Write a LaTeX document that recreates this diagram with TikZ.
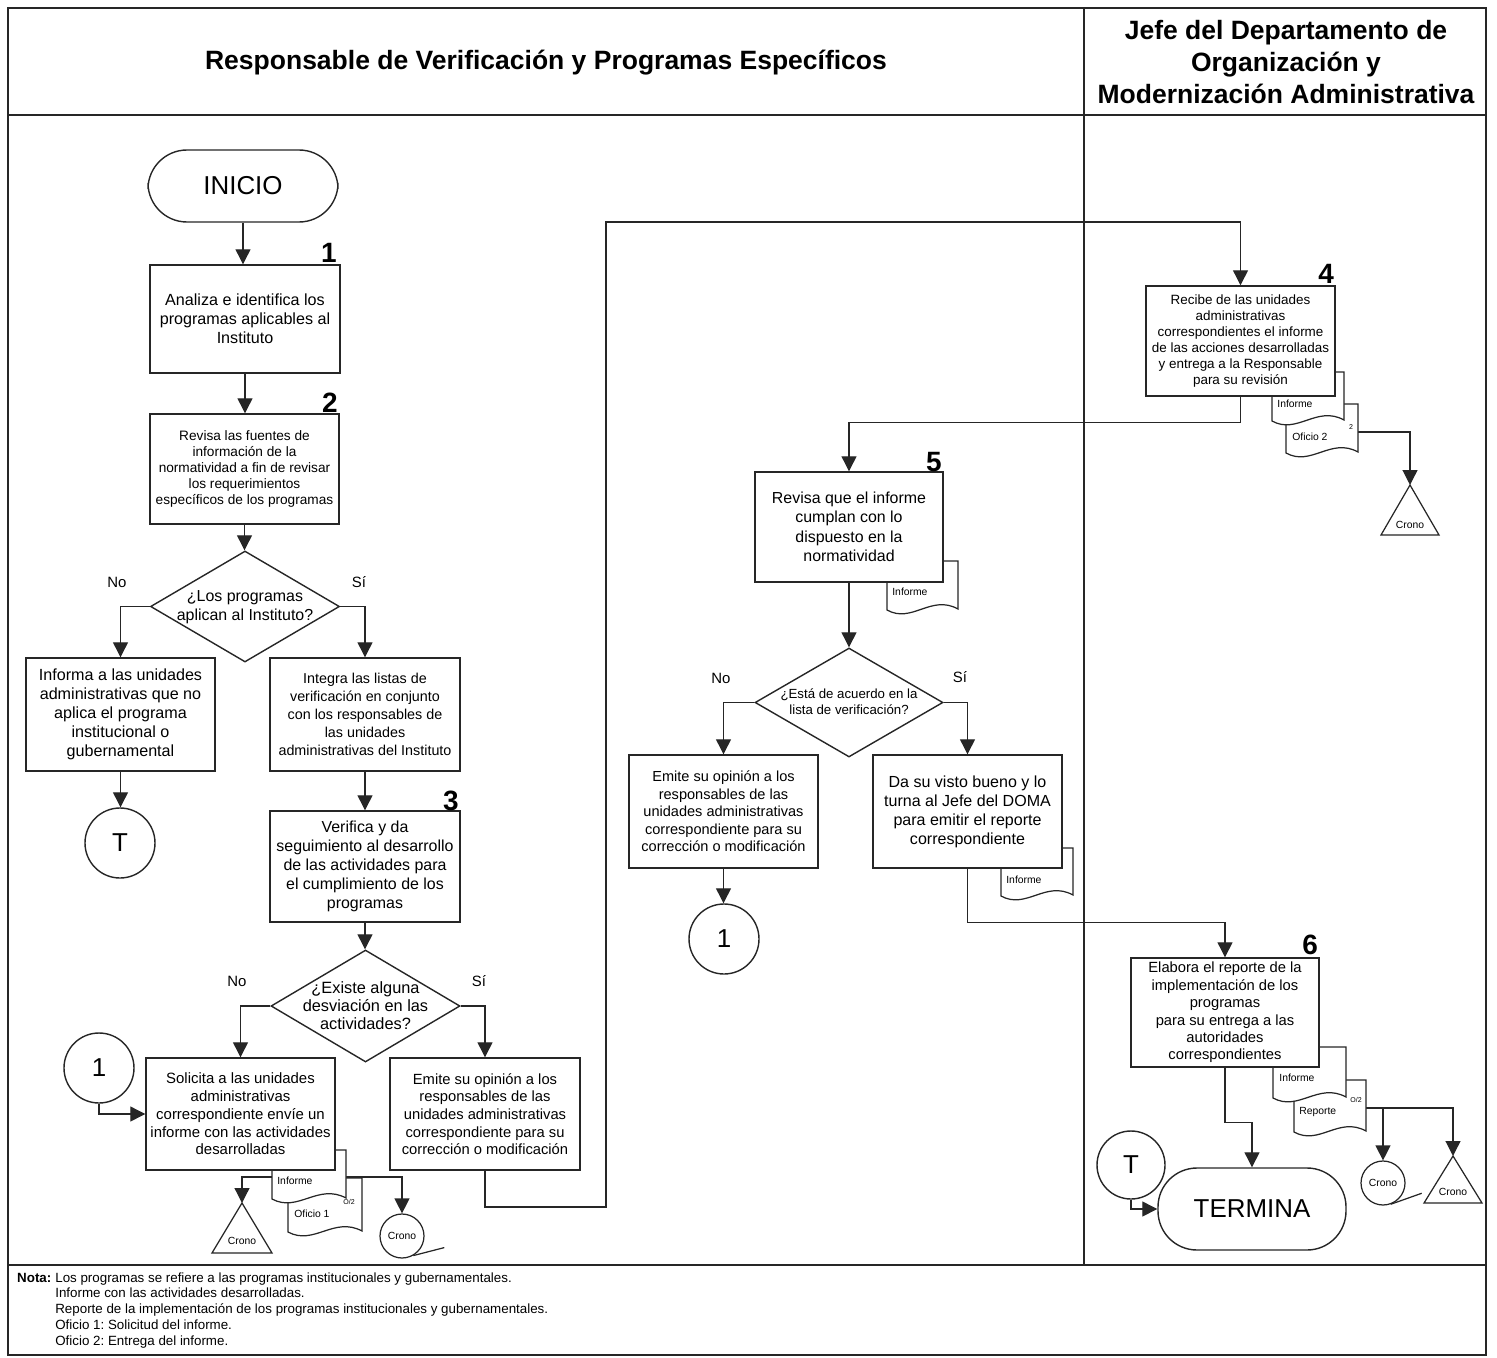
\documentclass[tikz,border=0pt]{standalone}
\usepackage{fontspec}
\setmainfont{Liberation Sans}
\usetikzlibrary{arrows.meta,shapes.geometric,calc}
\definecolor{ln}{HTML}{262626}
\frenchspacing
% document symbol: rectangle with a wavy bottom edge (x1, ytop, x2, ybottom)
\newcommand\docsh[4]{%
  \draw[docst] (#1,#2) -- (#3,#2) -- (#3,#4)
    .. controls ({#1+0.62*(#3-#1)},{#4-15}) and ({#1+0.35*(#3-#1)},{#4+15}) .. (#1,{#4+1}) -- cycle;}
\begin{document}
\begin{tikzpicture}[x=0.02cm,y=-0.02cm,
  fs/.style 2 args={font=\fontsize{#1pt}{#2pt}\selectfont},
  sz/.style 2 args={minimum width=#1*0.02cm,minimum height=#2*0.02cm},
  box/.style={rectangle,draw=ln,line width=0.8pt,fill=white,inner sep=0pt,align=center},
  termst/.style={rectangle,rounded corners=0.78cm,draw=ln,line width=0.8pt,fill=white,inner sep=0pt,fs={14.74}{17}},
  dia/.style={diamond,draw=ln,line width=0.8pt,fill=white,inner sep=0pt},
  circ/.style={circle,draw=ln,line width=0.8pt,fill=white,inner sep=0pt,minimum size=70*0.02cm,fs={14.74}{17}},
  crc/.style={circle,draw=ln,line width=0.7pt,fill=white,inner sep=0pt,minimum size=44*0.02cm,fs={5.9}{7}},
  docst/.style={draw=ln,line width=0.7pt,fill=white},
  doclab/.style={anchor=west,inner sep=0pt,fs={5.9}{7}},
  tiny/.style={inner sep=0pt,fs={4}{5}},
  lnk/.style={draw=ln,line width=0.7pt},
  arr/.style={draw=ln,line width=0.7pt,-{Triangle[length=0.3cm,width=0.3cm]}},
  frame/.style={draw=ln,line width=1.5pt},
  num/.style={inner sep=0pt,font=\fontsize{15.9}{18}\selectfont\bfseries},
  yn/.style={inner sep=0pt,fs={8.5}{10}},
  hdr/.style={inner sep=0pt,align=center,font=\fontsize{15.08pt}{18.14pt}\selectfont\bfseries}]
\useasboundingbox (0,0) rectangle (1497,1358);

% frame and lanes
\draw[frame] (8,8) rectangle (1486,1355);
\draw[frame] (8,115) -- (1486,115);
\draw[frame] (8,1265) -- (1486,1265);
\draw[frame] (1084,8) -- (1084,1265);
\node[hdr] (h1) at (546,63) {Responsable de Verificación y Programas Específicos};
\node[hdr] (h2) at (1286,62) {Jefe del Departamento de\\Organización y\\Modernización Administrativa};

% archive symbols (Crono)
\node[crc] (cr1) at (402,1236) {Crono};
\node[crc] (cr3) at (1383,1183) {Crono};
\draw[lnk] (cr1.-60) -- ++(31,-8);
\draw[lnk] (cr3.-70) -- ++(31,-11);
\coordinate (tr1) at (242,1203);
\coordinate (tr2) at (1410,485);
\coordinate (tr3) at (1453,1156);
\draw[docst] (tr1) -- ++(30,50) -- ++(-60,0) -- cycle;
\draw[docst] (tr2) -- ++(29,50) -- ++(-58,0) -- cycle;
\draw[docst] (tr3) -- ++(29,47) -- ++(-58,0) -- cycle;
\node[inner sep=0pt,fs={5.9}{7}] (tl1) at (242,1241) {Crono};
\node[inner sep=0pt,fs={5.9}{7}] (tl2) at (1410,525) {Crono};
\node[inner sep=0pt,fs={5.9}{7}] (tl3) at (1453,1192) {Crono};

% links from the documents to the archives
\coordinate (sL) at (300,1177);
\coordinate (sR) at (340,1177);
\coordinate (q4) at (1320,432);
\coordinate (q6) at (1340,1108);
\draw[arr] (sL) -| (tr1);
\draw[arr] (sR) -| (cr1.north);
\draw[arr] (q4) -| (tr2);
\draw[arr] (q6) -| (cr3.north);
\draw[arr] (q6) -| (tr3);

% documents (the copy behind first, the report in front)
\docsh{288}{1178}{362}{1231}
\docsh{272}{1150}{346}{1198}
\node[doclab] (dl1) at (277,1181) {Informe};
\node[doclab] (dl2) at (294,1214) {Oficio 1};
\node[tiny] (o1) at (349,1202) {O/2};
\docsh{1286}{404}{1358}{452}
\docsh{1272}{372}{1344}{420}
\node[doclab] (dl3) at (1277,404) {Informe};
\node[doclab] (dl4) at (1292,437) {Oficio 2};
\node[tiny] (o2) at (1351,427) {2};
\docsh{887}{561}{958}{609}
\node[doclab] (dl5) at (892,592) {Informe};
\docsh{1001}{848}{1073}{895}
\node[doclab] (dl6) at (1006,880) {Informe};
\docsh{1294}{1080}{1366}{1131}
\docsh{1273}{1047}{1346}{1097}
\node[doclab] (dl7) at (1279,1078) {Informe};
\node[doclab] (dl8) at (1299,1112) {Reporte};
\node[tiny] (o3) at (1356,1100) {O/2};

% process nodes, first lane
\node[termst,sz={190}{72}] (ini) at (243,186) {INICIO};
\node[box,sz={190}{108},fs={9.18}{10.77}] (b1) at (245,319) {Analiza e identifica los\\programas aplicables al\\Instituto};
\node[box,sz={189}{110},fs={7.77}{9.07}] (b2) at (244.5,469) {Revisa las fuentes de\\información de la\\normatividad a fin de revisar\\los requerimientos\\específicos de los programas};
\node[dia,sz={189}{111}] (d1) at (245,606.5) {};
\node[inner sep=0pt,align=center,fs={9.07}{10.77}] (d1t) at (245,607) {¿Los programas\\aplican al Instituto?};
\node[box,sz={189}{113},fs={9.18}{10.77}] (bInf) at (120.5,714.5) {Informa a las unidades\\administrativas que no\\aplica el programa\\institucional o\\gubernamental};
\node[box,sz={190}{113},fs={8.16}{10.2}] (bInt) at (365,714.5) {Integra las listas de\\verificación en conjunto\\con los responsables de\\las unidades\\administrativas del Instituto};
\node[circ] (cT) at (120,843) {T};
\node[box,sz={190}{111},fs={9.07}{10.9}] (b3) at (365,866.5) {Verifica y da\\seguimiento al desarrollo\\de las actividades para\\el cumplimiento de los\\programas};
\node[dia,sz={189}{112}] (d2) at (365.5,1006) {};
\node[inner sep=0pt,align=center,fs={9.3}{10.2}] (d2t) at (365.5,1006) {¿Existe alguna\\desviación en las\\actividades?};
\node[box,sz={189}{112},fs={8.5}{10.1}] (bSol) at (240.5,1114) {Solicita a las unidades\\administrativas\\correspondiente envíe un\\informe con las actividades\\desarrolladas};
\node[box,sz={190}{112},fs={8.39}{10.06}] (bEm) at (485,1114) {Emite su opinión a los\\responsables de las\\unidades administrativas\\correspondiente para su\\corrección o modificación};
\node[circ] (c1a) at (99,1068) {1};

% process nodes, middle and second lane
\node[box,sz={189}{110},fs={7.65}{9.07}] (b4) at (1240.5,341) {Recibe de las unidades\\administrativas\\correspondientes el informe\\de las acciones desarrolladas\\y entrega a la Responsable\\para su revisión};
\node[box,sz={188}{110},fs={9.07}{11.05}] (b5) at (849,527) {Revisa que el informe\\cumplan con lo\\dispuesto en la\\normatividad};
\node[dia,sz={188}{109}] (d3) at (849,702.5) {};
\node[inner sep=0pt,align=center,fs={7.54}{9.07}] (d3t) at (849,702) {¿Está de acuerdo en la\\lista de verificación?};
\node[box,sz={189}{113},fs={8.28}{9.92}] (bE2) at (723.5,811.5) {Emite su opinión a los\\responsables de las\\unidades administrativas\\correspondiente para su\\corrección o modificación};
\node[box,sz={189}{113},fs={9.13}{10.77}] (bDa) at (967.5,811.5) {Da su visto bueno y lo\\turna al Jefe del DOMA\\para emitir el reporte\\correspondiente};
\node[circ] (c1b) at (724,939) {1};
\node[box,sz={188}{109},fs={8.39}{9.92}] (b6) at (1225,1012.5) {Elabora el reporte de la\\implementación de los\\programas\\para su entrega a las\\autoridades\\correspondientes};
\node[termst,sz={188}{82}] (trm) at (1252,1209) {TERMINA};
\node[circ,minimum size=68*0.02cm] (cT2) at (1131,1165) {T};

% step numbers
\node[num] (n1) at (329,253) {1};
\node[num] (n2) at (330,403) {2};
\node[num] (n3) at (451,801) {3};
\node[num] (n4) at (1326,274) {4};
\node[num] (n5) at (934,462) {5};
\node[num] (n6) at (1310,945) {6};

% decision answers
\node[yn] (no1) at (117,582) {No};
\node[yn] (si1) at (359,582) {Sí};
\node[yn] (no2) at (237,981) {No};
\node[yn] (si2) at (479,981) {Sí};
\node[yn] (no3) at (721,678) {No};
\node[yn] (si3) at (960,677) {Sí};

% connectors
\draw[arr] (ini.south) -- (ini.south |- b1.north);
\draw[arr] (b1.south) -- (b1.south |- b2.north);
\draw[arr] (b2.south) -- (b2.south |- d1.north);
\draw[arr] (d1.west) -| (bInf.north);
\draw[arr] (d1.east) -| (bInt.north);
\draw[arr] (bInf.south) -- (bInf.south |- cT.north);
\draw[arr] (bInt.south) -- (bInt.south |- b3.north);
\draw[arr] (b3.south) -- (b3.south |- d2.north);
\draw[arr] (d2.west) -| (bSol.north);
\draw[arr] (d2.east) -| (bEm.north);
\draw[arr] (c1a.south) |- (bSol.west);
\coordinate (r1) at (606,1207);
\coordinate (r2) at (606,222);
\draw[arr] (bEm.south) |- (r1) -- (r2) -| (b4.north);
\draw[arr] (b4.south) -- ++(0,26) -| (b5.north);
\draw[arr] (b5.south) -- (b5.south |- d3.north);
\draw[arr] (d3.west) -| (bE2.north);
\draw[arr] (d3.east) -| (bDa.north);
\draw[arr] (bE2.south) -- (bE2.south |- c1b.north);
\draw[arr] (bDa.south) -- ++(0,54) -| (b6.north);
\draw[arr] (b6.south) -- ++(0,55) -| (trm.north);
\draw[arr] (cT2.south) |- (trm.west);

% notes
\node[anchor=north west,inner sep=0pt,align=left,fs={7.6}{9.07}] (notas) at (55,1272) {\llap{\textbf{Nota:}\hspace{0.08cm}}Los programas se refiere a las programas institucionales y gubernamentales.\\Informe con las actividades desarrolladas.\\Reporte de la implementación de los programas institucionales y gubernamentales.\\Oficio 1: Solicitud del informe.\\Oficio 2: Entrega del informe.};
\end{tikzpicture}
\end{document}
